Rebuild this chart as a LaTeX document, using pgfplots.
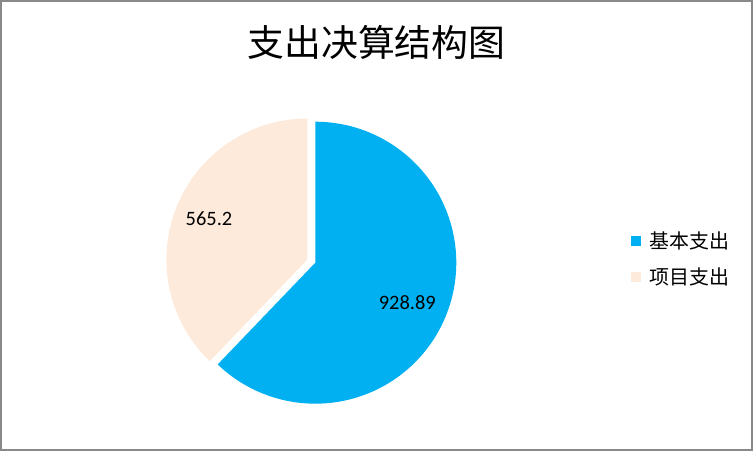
\documentclass[border=0pt]{standalone}
\usepackage{fontspec}
\setmainfont{Carlito}
\newfontfamily\cjk{Noto Sans CJK SC}
\usepackage{pgfplots}
\pgfplotsset{compat=1.18}
\definecolor{cblue}{RGB}{0,176,240}
\definecolor{cpeach}{RGB}{253,234,218}
\definecolor{framegray}{RGB}{137,137,137}

% slice values
\def\vA{928.89}
\def\vB{565.2}
\pgfmathsetmacro\fracA{\vA/(\vA+\vB)}
\pgfmathsetmacro\endA{90-360*\fracA}
\pgfmathsetmacro\endB{90+360*(1-\fracA)}

\begin{document}
\begin{tikzpicture}
\useasboundingbox (0bp,0bp) rectangle (753bp,451bp);
\draw[framegray, line width=2bp] (1bp,1bp) rectangle (752bp,450bp);
\node[font=\cjk\fontsize{37}{40}\selectfont] at (376.5bp,408.5bp) {支出决算结构图};
\begin{axis}[
    at={(315.3bp,188.3bp)}, anchor=center,
    width=300bp, height=300bp, scale only axis,
    xmin=-150, xmax=150, ymin=-150, ymax=150,
    hide axis,
    legend cell align=left,
    legend image code/.code={\fill[#1] (0bp,-5bp) rectangle (10bp,5bp);},
    legend style={at={(1.551,0.512)}, anchor=west, draw=none, fill=none,
        inner sep=0pt, row sep=16bp, column sep=8bp,
        font=\cjk\fontsize{20}{23}\selectfont, nodes={inner sep=1bp}},
]
\addplot[fill=cblue, draw=none, domain=\endA:90, samples=120]
    ({141*cos(x)},{141*sin(x)}) -- (axis cs:0,0) -- cycle;
\addlegendentry{基本支出}
\addplot[fill=cpeach, draw=none, domain=90:\endB, samples=80]
    ({-7.9+141*cos(x)},{3.2+141*sin(x)}) -- (axis cs:-7.9,3.2) -- cycle;
\addlegendentry{项目支出}
\node[font=\fontsize{20.5}{24}\selectfont] at (axis cs:92,-39.6) {928.89};
\node[font=\fontsize{20.5}{24}\selectfont] at (axis cs:-106.3,44.4) {565.2};
\end{axis}
\end{tikzpicture}
\end{document}
